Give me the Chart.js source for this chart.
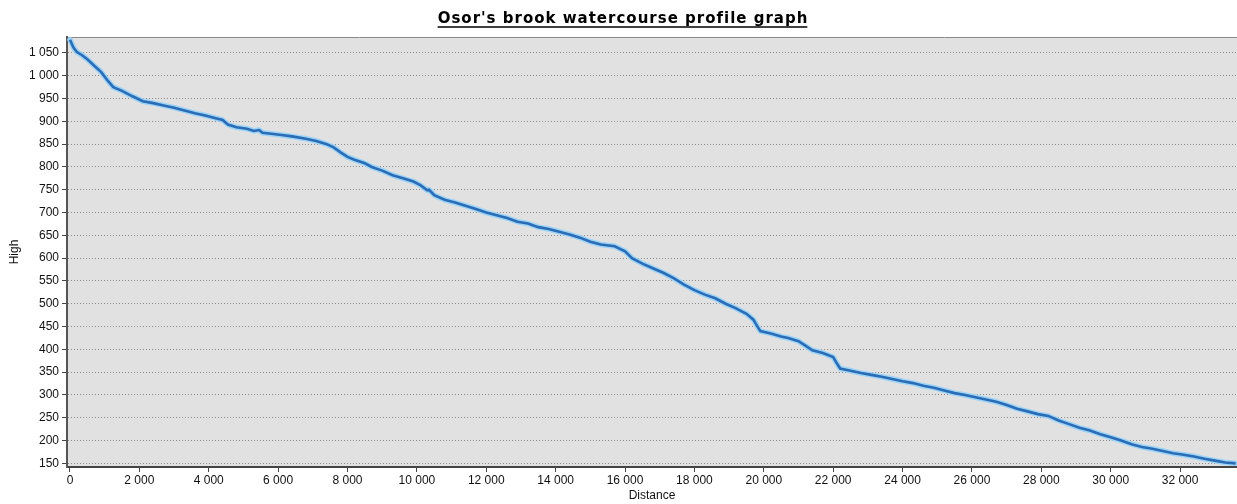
<!DOCTYPE html>
<html>
<head>
<meta charset="utf-8">
<script src="https://cdn.jsdelivr.net/npm/chart.js@4.4.1/dist/chart.umd.min.js"></script>
<style>
html,body{margin:0;padding:0;background:#fff;}
#wrap{width:1237px;height:504px;position:relative;}
</style>
</head>
<body>
<div id="wrap"><canvas id="c" width="1237" height="504"></canvas></div>
<script>
const chartTitle = "Osor's brook watercourse profile graph";
const xTitle = "Distance";
const yTitle = "High";
const distances = [0,100,200,350,500,700,900,1100,1250,1500,1800,2100,2400,2700,3000,3300,3600,3900,4200,4400,4550,4800,5100,5300,5450,5550,5800,6100,6400,6800,7100,7400,7600,7800,8000,8200,8500,8700,9000,9300,9600,9900,10100,10300,10350,10500,10800,11100,11400,11700,12000,12300,12600,12900,13200,13500,13800,14100,14400,14700,15000,15300,15700,16000,16200,16500,16800,17100,17400,17700,18000,18300,18600,18900,19200,19500,19700,19800,19900,20200,20500,20700,21000,21200,21400,21700,22000,22100,22200,22500,22800,23100,23400,23700,24000,24300,24600,24900,25200,25500,25800,26100,26400,26700,27000,27300,27600,27900,28200,28500,28800,29100,29400,29700,30000,30300,30600,30900,31200,31500,31800,32100,32400,32700,33000,33300,33600];
const heights = [1079,1062,1052,1045,1036,1022,1008,988,975,967,955,944,940,935,930,924,918,913,907,903,893,887,884,879,881,875,873,870,867,862,857,850,843,832,822,816,808,800,792,782,775,768,760,749,750,738,728,722,715,708,700,694,688,680,676,668,664,658,652,645,636,630,626,615,600,588,578,568,556,542,530,520,512,500,490,478,465,452,440,435,428,425,418,408,398,392,383,370,358,353,348,344,340,335,330,326,320,316,310,304,300,295,290,285,278,270,264,258,254,244,236,228,222,214,207,200,192,186,182,177,172,169,165,160,156,152,150];
const xTicks = [0,2000,4000,6000,8000,10000,12000,14000,16000,18000,20000,22000,24000,26000,28000,30000,32000];
const yTicks = [150,200,250,300,350,400,450,500,550,600,650,700,750,800,850,900,950,1000,1050];

const fmt = v => String(v).replace(/\B(?=(\d{3})+(?!\d))/g, ' ');

const bgPlugin = {
  id: 'bg',
  beforeDraw(chart) {
    const {ctx, chartArea: a} = chart;
    ctx.save();
    ctx.fillStyle = '#e1e1e1';
    ctx.fillRect(a.left, a.top, a.right - a.left, a.bottom - a.top);
    ctx.strokeStyle = '#8a8a8a';
    ctx.lineWidth = 1;
    ctx.beginPath();
    ctx.moveTo(a.left, a.top + 0.5);
    ctx.lineTo(a.right, a.top + 0.5);
    ctx.stroke();
    ctx.restore();
  },
  beforeDatasetDraw(chart) {
    const ctx = chart.ctx;
    const pts = chart.getDatasetMeta(0).data;
    ctx.save();
    ctx.strokeStyle = 'rgba(150,210,250,0.9)';
    ctx.lineWidth = 5.5;
    ctx.lineJoin = 'round';
    ctx.lineCap = 'round';
    ctx.beginPath();
    pts.forEach((p, i) => i ? ctx.lineTo(p.x, p.y) : ctx.moveTo(p.x, p.y));
    ctx.stroke();
    ctx.restore();
  },
  afterDraw(chart) {
    const ctx = chart.ctx;
    ctx.save();
    ctx.font = 'bold 15px "DejaVu Sans", Verdana, sans-serif';
    ctx.letterSpacing = '1px';
    ctx.fillStyle = '#000';
    ctx.textAlign = 'left';
    ctx.textBaseline = 'alphabetic';
    const w = ctx.measureText(chartTitle).width - 1;
    const cx = chart.width / 2 + 4;
    ctx.fillText(chartTitle, cx - w / 2, 23);
    ctx.strokeStyle = '#000';
    ctx.lineWidth = 1.5;
    ctx.beginPath();
    ctx.moveTo(cx - w / 2, 27);
    ctx.lineTo(cx + w / 2, 27);
    ctx.stroke();
    ctx.restore();
  }
};

new Chart(document.getElementById('c'), {
  type: 'line',
  data: {
    datasets: [{
      data: distances.map((d, i) => ({x: d, y: heights[i]})),
      borderColor: '#2a6cb5',
      borderWidth: 2.6,
      pointRadius: 0,
      tension: 0,
      fill: false
    }]
  },
  options: {
    responsive: false,
    animation: false,
    layout: {padding: {left: 0, right: 0, top: 37, bottom: 0}},
    plugins: {
      legend: {display: false},
      tooltip: {enabled: false},
      title: {display: false}
    },
    scales: {
      x: {
        type: 'linear',
        min: -86,
        max: 33640,
        afterFit(s) { s.height = 37; },
        afterBuildTicks(s) { s.ticks = xTicks.map(v => ({value: v})); },
        ticks: {
          color: '#111',
          font: {family: '"Liberation Sans", Arial, sans-serif', size: 12},
          padding: 1,
          maxRotation: 0,
          autoSkip: false,
          callback: v => fmt(v)
        },
        grid: {drawOnChartArea: false, drawTicks: true, tickLength: 5, tickColor: '#444'},
        border: {display: true, color: '#444', width: 2},
        title: {
          display: true, text: xTitle, color: '#111',
          font: {family: '"Liberation Sans", Arial, sans-serif', size: 12},
          padding: {top: 0, bottom: 1}
        }
      },
      y: {
        type: 'linear',
        min: 142,
        max: 1085,
        afterFit(s) { s.width = 67; },
        afterBuildTicks(s) { s.ticks = yTicks.map(v => ({value: v})); },
        ticks: {
          color: '#111',
          font: {family: '"Liberation Sans", Arial, sans-serif', size: 12},
          padding: 3,
          autoSkip: false,
          callback: v => fmt(v)
        },
        grid: {drawOnChartArea: true, drawTicks: true, tickLength: 5, color: '#8c8c8c', tickColor: '#444', tickBorderDash: [], lineWidth: 1},
        border: {display: true, color: '#555', width: 2, dash: [1, 2]},
        title: {
          display: true, text: yTitle, color: '#111',
          font: {family: '"Liberation Sans", Arial, sans-serif', size: 12},
          padding: {top: 7, bottom: 0}
        }
      }
    }
  },
  plugins: [bgPlugin]
});
</script>
</body>
</html>
